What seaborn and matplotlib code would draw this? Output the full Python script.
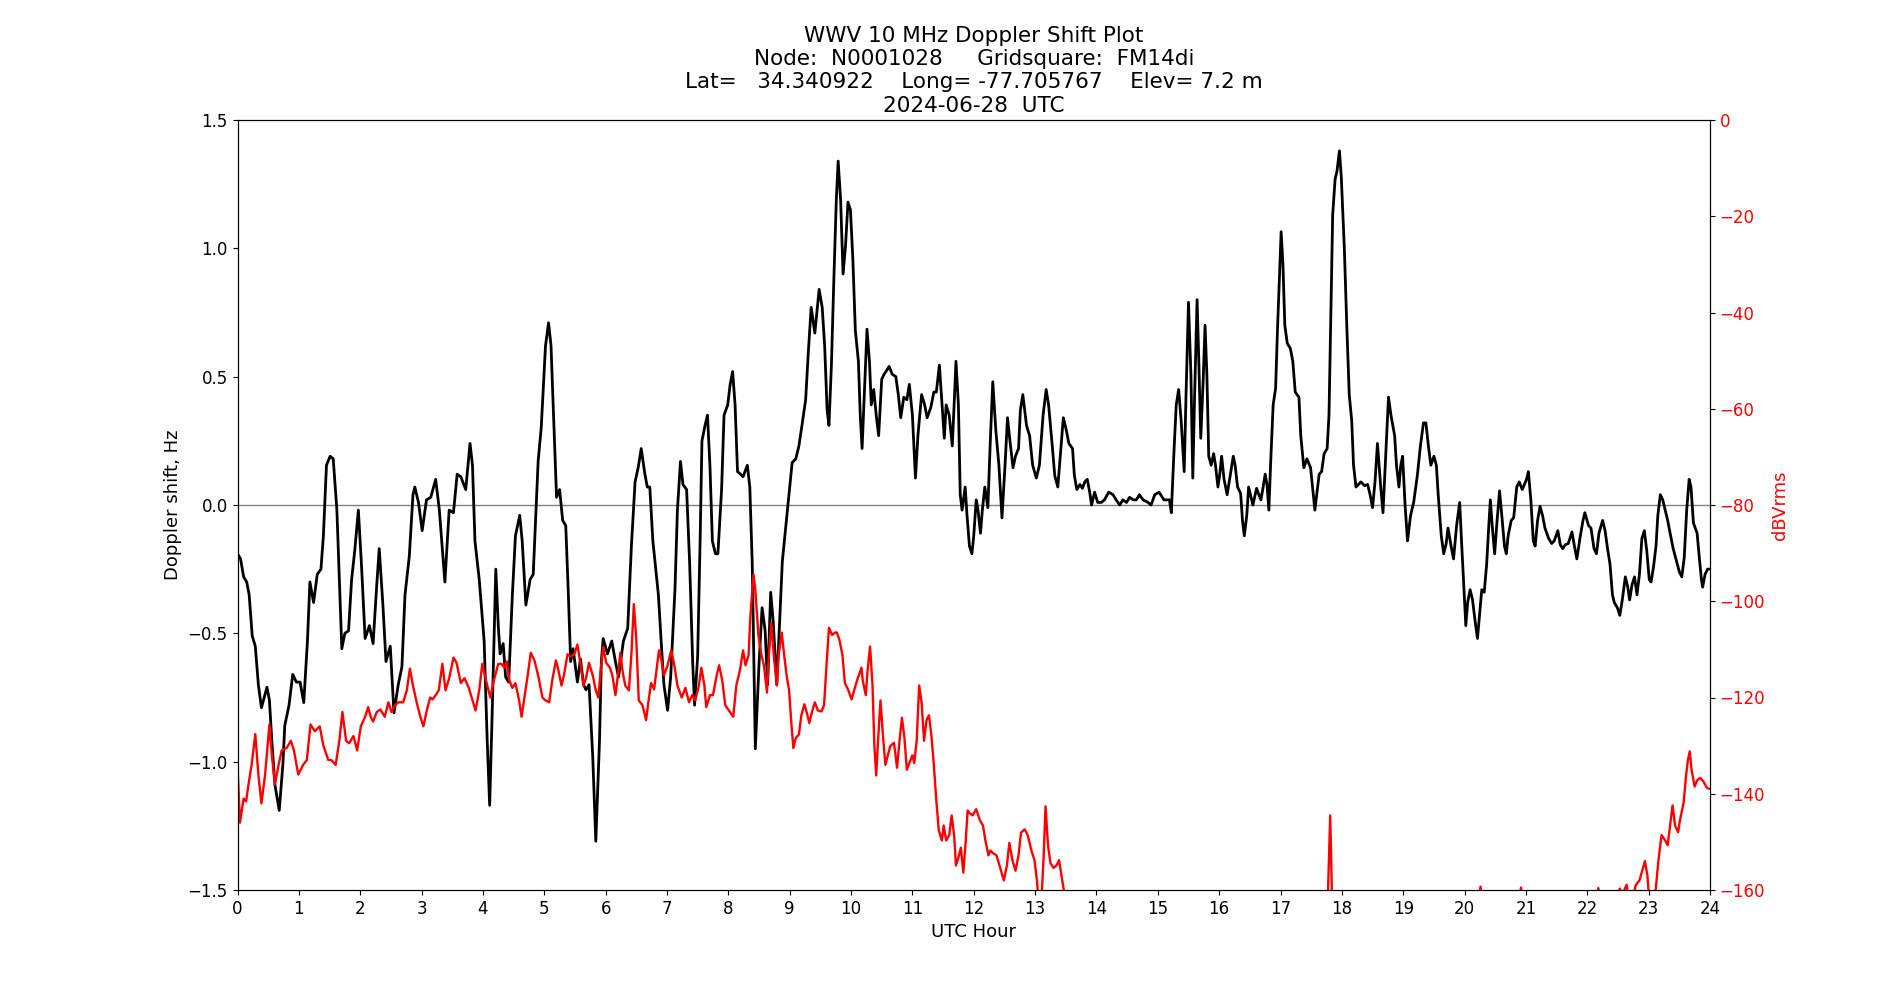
import pandas as pd
import matplotlib
matplotlib.use("Agg")
import matplotlib.pyplot as plt
import seaborn as sns

# Doppler shift (Hz) vs UTC hour
doppler_hours = [
    0.00, 0.05, 0.10, 0.15, 0.19, 0.24, 0.29, 0.34, 0.39, 0.48, 0.52, 0.56, 0.61, 0.68, 0.74, 0.77, 0.84, 0.90, 0.96,
    1.02, 1.08, 1.14, 1.18, 1.24, 1.30, 1.36, 1.40, 1.45, 1.51, 1.56, 1.62, 1.70, 1.75, 1.81, 1.86, 1.91, 1.97,
    2.02, 2.08, 2.15, 2.21, 2.27, 2.31, 2.37, 2.42, 2.49, 2.55, 2.62, 2.68, 2.73, 2.80, 2.86, 2.89, 2.95,
    3.01, 3.08, 3.15, 3.23, 3.29, 3.38, 3.45, 3.52, 3.58, 3.64, 3.72, 3.79, 3.83, 3.87, 3.94,
    4.02, 4.07, 4.11, 4.15, 4.21, 4.25, 4.28, 4.33, 4.37, 4.42, 4.48, 4.53, 4.60, 4.64, 4.70, 4.77, 4.82, 4.90, 4.95,
    5.02, 5.07, 5.11, 5.16, 5.20, 5.25, 5.30, 5.35, 5.39, 5.43, 5.47, 5.54, 5.59, 5.64, 5.68, 5.73, 5.79, 5.84, 5.90, 5.93, 5.96,
    6.03, 6.10, 6.16, 6.21, 6.29, 6.36, 6.42, 6.48, 6.53, 6.58, 6.64, 6.68, 6.72, 6.77, 6.86, 6.91, 6.95,
    7.01, 7.06, 7.13, 7.17, 7.22, 7.26, 7.32, 7.37, 7.42, 7.45, 7.50, 7.54, 7.57, 7.62, 7.66, 7.70, 7.74, 7.79, 7.83, 7.89, 7.93, 7.99,
    8.03, 8.07, 8.11, 8.15, 8.20, 8.24, 8.31, 8.35, 8.39, 8.44, 8.50, 8.55, 8.60, 8.64, 8.69, 8.73, 8.79, 8.84, 8.88, 8.93, 8.99,
    9.04, 9.10, 9.15, 9.20, 9.26, 9.30, 9.35, 9.41, 9.48, 9.53, 9.57, 9.61, 9.64, 9.68, 9.72, 9.76, 9.79, 9.83, 9.87, 9.91, 9.95, 9.99,
    10.03, 10.07, 10.12, 10.15, 10.18, 10.23, 10.26, 10.30, 10.33, 10.37, 10.41, 10.45, 10.50, 10.54, 10.57, 10.62, 10.67, 10.73,
    10.77, 10.81, 10.86, 10.91, 10.95,
    11.00, 11.05, 11.09, 11.15, 11.20, 11.24, 11.30, 11.35, 11.39, 11.44, 11.49, 11.52, 11.55, 11.60, 11.65, 11.68, 11.71, 11.75,
    11.78, 11.81, 11.86, 11.89, 11.93, 11.97,
    12.00, 12.04, 12.07, 12.11, 12.14, 12.18, 12.23, 12.27, 12.31, 12.36, 12.41, 12.46, 12.51, 12.55, 12.59, 12.64, 12.68, 12.73,
    12.76, 12.80, 12.86, 12.91, 12.96,
    13.02, 13.07, 13.13, 13.18, 13.22, 13.28, 13.32, 13.37, 13.41, 13.46, 13.51, 13.55, 13.61, 13.64, 13.68, 13.73, 13.77, 13.81,
    13.85, 13.89, 13.92, 13.97,
    14.02, 14.08, 14.13, 14.20, 14.27, 14.32, 14.38, 14.43, 14.49, 14.54, 14.60, 14.65, 14.70, 14.76, 14.84, 14.89, 14.95,
    15.02, 15.10, 15.15, 15.19, 15.22, 15.26, 15.30, 15.34, 15.38, 15.43, 15.46, 15.50, 15.54, 15.57, 15.60, 15.64, 15.67, 15.70,
    15.74, 15.77, 15.80, 15.83, 15.87, 15.91, 15.94, 15.98,
    16.01, 16.04, 16.08, 16.13, 16.17, 16.23, 16.26, 16.30, 16.35, 16.38, 16.41, 16.45, 16.48, 16.52, 16.55, 16.61, 16.64, 16.68,
    16.71, 16.75, 16.78, 16.81, 16.84, 16.88, 16.92, 16.95, 16.99,
    17.01, 17.04, 17.07, 17.11, 17.16, 17.20, 17.24, 17.30, 17.33, 17.38, 17.43, 17.49, 17.53, 17.56, 17.60, 17.63, 17.67, 17.71,
    17.76, 17.79, 17.82, 17.85, 17.89, 17.92, 17.96, 17.99,
    18.04, 18.08, 18.12, 18.16, 18.19, 18.23, 18.27, 18.31, 18.37, 18.42, 18.46, 18.50, 18.54, 18.58, 18.63, 18.67, 18.71, 18.76,
    18.80, 18.86, 18.89, 18.93, 18.96, 18.99,
    19.03, 19.07, 19.12, 19.17, 19.23, 19.28, 19.33, 19.37, 19.41, 19.45, 19.50, 19.54, 19.57, 19.62, 19.66, 19.70, 19.73, 19.78,
    19.82, 19.87, 19.92, 19.95, 19.99,
    20.02, 20.05, 20.09, 20.13, 20.17, 20.21, 20.25, 20.28, 20.32, 20.36, 20.39, 20.42, 20.45, 20.49, 20.53, 20.57, 20.61, 20.65,
    20.68, 20.71, 20.76, 20.80, 20.85, 20.89, 20.94,
    21.01, 21.04, 21.08, 21.12, 21.15, 21.19, 21.23, 21.27, 21.31, 21.37, 21.42, 21.46, 21.52, 21.56, 21.60, 21.64, 21.69, 21.75,
    21.79, 21.83, 21.88, 21.93, 21.96,
    22.02, 22.06, 22.11, 22.15, 22.19, 22.25, 22.29, 22.33, 22.37, 22.41, 22.44, 22.49, 22.53, 22.57, 22.62, 22.66, 22.69, 22.73,
    22.77, 22.81, 22.85, 22.89, 22.93, 22.97,
    23.01, 23.04, 23.08, 23.12, 23.15, 23.19, 23.23, 23.27, 23.31, 23.35, 23.40, 23.46, 23.50, 23.54, 23.58, 23.62, 23.66, 23.69,
    23.73, 23.79, 23.82, 23.86, 23.88, 23.92, 23.96, 24.00,
]
doppler_hz = [
    -0.19, -0.21, -0.28, -0.30, -0.35, -0.51, -0.55, -0.70, -0.79, -0.71, -0.76, -0.92, -1.09, -1.19, -1.01, -0.86, -0.78, -0.66, -0.69,
    -0.69, -0.77, -0.53, -0.30, -0.38, -0.27, -0.25, -0.12, 0.155, 0.19, 0.18, -0.02, -0.56, -0.50, -0.49, -0.29, -0.18, -0.02,
    -0.23, -0.52, -0.47, -0.54, -0.31, -0.17, -0.39, -0.61, -0.55, -0.81, -0.70, -0.63, -0.35, -0.20, 0.04, 0.07, 0.01,
    -0.10, 0.02, 0.03, 0.10, -0.02, -0.30, -0.02, -0.03, 0.12, 0.11, 0.06, 0.24, 0.155, -0.14, -0.29,
    -0.53, -0.92, -1.17, -0.82, -0.25, -0.47, -0.58, -0.54, -0.67, -0.69, -0.35, -0.12, -0.04, -0.14, -0.39, -0.29, -0.27, 0.17, 0.30,
    0.62, 0.71, 0.62, 0.29, 0.03, 0.06, -0.06, -0.08, -0.33, -0.61, -0.56, -0.69, -0.60, -0.70, -0.72, -0.70, -0.98, -1.31, -0.92, -0.61, -0.52,
    -0.58, -0.53, -0.61, -0.67, -0.53, -0.48, -0.16, 0.09, 0.145, 0.22, 0.12, 0.07, 0.07, -0.14, -0.35, -0.55, -0.70,
    -0.80, -0.67, -0.33, -0.02, 0.17, 0.08, 0.06, -0.23, -0.62, -0.78, -0.59, -0.14, 0.25, 0.31, 0.35, 0.155, -0.14, -0.19, -0.19, 0.06, 0.35, 0.39,
    0.47, 0.52, 0.39, 0.13, 0.12, 0.11, 0.155, 0.07, -0.23, -0.95, -0.62, -0.40, -0.49, -0.70, -0.34, -0.45, -0.70, -0.43, -0.22, -0.10, 0.04,
    0.165, 0.18, 0.23, 0.31, 0.41, 0.58, 0.77, 0.67, 0.84, 0.77, 0.62, 0.37, 0.31, 0.545, 0.88, 1.19, 1.34, 1.19, 0.90, 1.01, 1.18, 1.15,
    0.955, 0.68, 0.56, 0.35, 0.22, 0.505, 0.685, 0.56, 0.39, 0.45, 0.35, 0.27, 0.49, 0.51, 0.52, 0.54, 0.51, 0.50,
    0.43, 0.34, 0.42, 0.41, 0.47,
    0.35, 0.105, 0.27, 0.43, 0.39, 0.34, 0.38, 0.44, 0.44, 0.545, 0.37, 0.26, 0.39, 0.35, 0.23, 0.39, 0.56, 0.39,
    0.04, -0.02, 0.07, -0.04, -0.16, -0.19,
    -0.12, 0.02, -0.02, -0.11, -0.02, 0.07, -0.01, 0.25, 0.48, 0.29, 0.155, -0.05, 0.155, 0.34, 0.25, 0.145, 0.19, 0.22,
    0.37, 0.43, 0.31, 0.27, 0.155,
    0.105, 0.155, 0.35, 0.45, 0.39, 0.23, 0.115, 0.07, 0.19, 0.34, 0.29, 0.24, 0.22, 0.115, 0.06, 0.08, 0.065, 0.09,
    0.10, 0.05, 0.00, 0.05,
    0.01, 0.01, 0.02, 0.05, 0.04, 0.02, 0.00, 0.02, 0.01, 0.03, 0.02, 0.02, 0.04, 0.02, 0.01, 0.00, 0.04,
    0.05, 0.02, 0.02, 0.02, -0.03, 0.19, 0.39, 0.45, 0.33, 0.13, 0.43, 0.79, 0.505, 0.105, 0.43, 0.80, 0.545, 0.26,
    0.49, 0.70, 0.505, 0.19, 0.155, 0.20, 0.155, 0.07,
    0.12, 0.19, 0.10, 0.04, 0.10, 0.19, 0.155, 0.07, 0.045, -0.06, -0.12, -0.04, 0.07, 0.03, 0.00, 0.065, 0.045, 0.02,
    0.06, 0.12, 0.08, -0.02, 0.17, 0.39, 0.455, 0.68, 0.935,
    1.065, 0.935, 0.70, 0.63, 0.61, 0.56, 0.44, 0.42, 0.27, 0.145, 0.18, 0.145, 0.05, -0.02, 0.06, 0.12, 0.13, 0.20,
    0.22, 0.35, 0.74, 1.13, 1.27, 1.30, 1.38, 1.28,
    1.00, 0.70, 0.43, 0.33, 0.155, 0.07, 0.08, 0.09, 0.075, 0.08, 0.04, -0.01, 0.09, 0.24, 0.08, -0.03, 0.17, 0.42,
    0.35, 0.27, 0.155, 0.07, 0.155, 0.19,
    0.00, -0.14, -0.04, 0.01, 0.115, 0.23, 0.32, 0.32, 0.23, 0.155, 0.19, 0.155, 0.04, -0.12, -0.19, -0.15, -0.09, -0.16,
    -0.21, -0.08, 0.01, -0.14, -0.33,
    -0.47, -0.38, -0.33, -0.37, -0.45, -0.52, -0.41, -0.33, -0.34, -0.23, -0.10, 0.02, -0.08, -0.19, -0.06, 0.055, -0.05, -0.16,
    -0.19, -0.12, -0.06, -0.05, 0.07, 0.09, 0.06,
    0.10, 0.13, 0.02, -0.14, -0.16, -0.06, -0.005, -0.04, -0.09, -0.13, -0.15, -0.14, -0.10, -0.155, -0.17, -0.155, -0.15, -0.105,
    -0.16, -0.21, -0.13, -0.06, -0.03,
    -0.08, -0.09, -0.17, -0.19, -0.11, -0.06, -0.10, -0.17, -0.23, -0.35, -0.38, -0.40, -0.43, -0.37, -0.28, -0.32, -0.37, -0.31,
    -0.28, -0.35, -0.27, -0.13, -0.10, -0.18,
    -0.29, -0.30, -0.24, -0.16, -0.04, 0.04, 0.02, -0.02, -0.06, -0.11, -0.17, -0.225, -0.26, -0.28, -0.205, -0.02, 0.10, 0.07,
    -0.07, -0.11, -0.19, -0.29, -0.32, -0.27, -0.25, -0.25,
]

# Received signal level (dBVrms) vs UTC hour; values under -160 fall off the axis
power_hours = [
    0.00, 0.04, 0.10, 0.14, 0.18, 0.23, 0.29, 0.34, 0.39, 0.45, 0.52, 0.56, 0.61, 0.67, 0.72, 0.80, 0.87, 0.92, 0.99,
    1.07, 1.13, 1.19, 1.26, 1.34, 1.40, 1.48, 1.53, 1.60, 1.66, 1.71, 1.77, 1.82, 1.89, 1.95,
    2.01, 2.08, 2.13, 2.17, 2.21, 2.27, 2.33, 2.40, 2.46, 2.51, 2.57, 2.62, 2.70, 2.76, 2.81, 2.86, 2.92, 2.98,
    3.03, 3.08, 3.14, 3.18, 3.23, 3.28, 3.34, 3.39, 3.45, 3.52, 3.57, 3.64, 3.70, 3.77, 3.83, 3.88, 3.94, 3.99,
    4.05, 4.12, 4.18, 4.25, 4.30, 4.35, 4.39, 4.43, 4.48, 4.53, 4.59, 4.63, 4.67, 4.73, 4.78, 4.84, 4.90, 4.97,
    5.02, 5.08, 5.13, 5.19, 5.23, 5.28, 5.32, 5.38, 5.43, 5.49, 5.54, 5.59, 5.64, 5.68, 5.73, 5.79, 5.84, 5.88, 5.92, 5.96,
    6.01, 6.07, 6.11, 6.16, 6.20, 6.24, 6.28, 6.32, 6.38, 6.42, 6.46, 6.50, 6.54, 6.60, 6.66, 6.69, 6.74, 6.79, 6.83, 6.87, 6.91, 6.95,
    7.01, 7.07, 7.12, 7.17, 7.24, 7.30, 7.36, 7.41, 7.46, 7.52, 7.56, 7.61, 7.64, 7.70, 7.75, 7.81, 7.85, 7.90, 7.95,
    8.02, 8.08, 8.13, 8.19, 8.24, 8.28, 8.33, 8.36, 8.41, 8.44, 8.49, 8.54, 8.58, 8.63, 8.66, 8.70, 8.74, 8.79, 8.82, 8.87, 8.91, 8.95, 8.99,
    9.03, 9.06, 9.10, 9.15, 9.19, 9.24, 9.28, 9.32, 9.37, 9.41, 9.46, 9.52, 9.56, 9.60, 9.64, 9.69, 9.74, 9.77, 9.81, 9.86, 9.90, 9.95,
    10.01, 10.05, 10.10, 10.14, 10.17, 10.19, 10.24, 10.27, 10.31, 10.35, 10.38, 10.41, 10.44, 10.48, 10.52, 10.56, 10.61, 10.64,
    10.70, 10.75, 10.79, 10.83, 10.87, 10.91, 10.95,
    11.00, 11.03, 11.07, 11.11, 11.15, 11.19, 11.23, 11.27, 11.31, 11.35, 11.39, 11.43, 11.48, 11.51, 11.55, 11.60, 11.64, 11.68,
    11.71, 11.76, 11.79, 11.83, 11.87, 11.90, 11.93, 11.98,
    12.04, 12.10, 12.15, 12.19, 12.24, 12.27, 12.31, 12.37, 12.42, 12.49, 12.54, 12.58, 12.63, 12.68, 12.73, 12.77, 12.83, 12.88, 12.94, 12.99,
    13.03, 13.06, 13.10, 13.14, 13.17, 13.21, 13.25, 13.30, 13.35, 13.39, 13.43, 13.48, 13.55,
    14.00, 15.00, 16.00, 17.00, 17.70, 17.77, 17.81, 17.84, 17.90, 19.00,
    20.00, 20.22, 20.26, 20.30, 20.40, 20.80, 20.89, 20.92, 20.95,
    21.10, 22.00, 22.14, 22.18, 22.22, 22.40, 22.50, 22.53, 22.57, 22.64, 22.68, 22.72, 22.79, 22.85, 22.94, 22.98,
    23.02, 23.08, 23.11, 23.16, 23.21, 23.27, 23.31, 23.35, 23.39, 23.43, 23.48, 23.51, 23.57, 23.61, 23.64, 23.67, 23.70,
    23.75, 23.79, 23.84, 23.89, 23.95, 24.00,
]
power_dbv = [
    -134, -146, -141, -141.6, -138, -134, -127.6, -136, -142, -136, -125.6, -132, -138, -134, -131, -130.5, -129, -131, -136,
    -134, -133, -125.6, -127, -126, -130, -133, -133, -134, -129, -123, -129, -129.5, -128, -131,
    -126, -124, -122, -124, -125, -123, -122.5, -124, -121, -123, -121.6, -121, -121, -118.5, -114, -117.5, -121, -124,
    -126, -123, -120, -120.4, -119.5, -118.5, -113, -118.5, -116, -111.7, -112.8, -117, -116, -118, -120.6, -122.7, -118.5, -113,
    -116.4, -120, -116.4, -113, -113, -113.8, -112.5, -116.4, -118, -117, -120.6, -124, -120.6, -115.4, -110.7, -112.3, -115.4, -120,
    -120.6, -121, -116.4, -112.3, -114.3, -117.5, -115.4, -111, -111.5, -111, -109, -113, -117.5, -116, -112.8, -115.4, -118.5, -120, -114.3, -109.5,
    -112.8, -113.8, -115.4, -119.5, -115.4, -110.7, -114.9, -117.5, -118.5, -111, -100.6, -108, -120.6, -121.6, -124.7, -121.6, -117, -118.3, -114.3, -110.2, -112.3, -115.4,
    -113.3, -110.2, -113.3, -117.5, -120, -118, -121, -119.5, -120.6, -117.5, -113.8, -117.5, -122, -119.5, -119.5, -115.4, -113.3, -116.4, -121.6,
    -122.9, -124, -117.5, -114.3, -110.2, -113.3, -111.2, -103, -94.4, -97.7, -107, -111.2, -113.3, -119, -111.2, -104.5, -111.2, -117.5, -111.2, -106.5, -111.2, -115.4, -118.5,
    -125.8, -130.5, -128.4, -127.7, -123.7, -121.4, -123.2, -125.3, -122.7, -121, -122.7, -122.9, -121.6, -113.3, -105.5, -107, -106.5, -106.5, -108, -111.2, -117, -118.3,
    -120.4, -118.5, -116.4, -114.9, -113.8, -116.4, -119.5, -114.3, -109.4, -117.5, -130, -136.2, -129, -120.6, -127.9, -134, -131.5, -130.1,
    -129.4, -134.6, -129, -124.2, -128.4, -135, -133.6,
    -132, -133.6, -129, -117.5, -121, -129, -124.7, -123.7, -127.9, -134.1, -141.4, -147.6, -149.7, -146.6, -149.7, -148.6, -144.5, -148.6,
    -154.9, -152.8, -151.2, -156.4, -149.7, -143.5, -144, -144.5,
    -143.2, -145.5, -146.6, -149.7, -152.8, -151.8, -152.3, -152.8, -154.9, -158, -154.9, -150.2, -153.8, -156, -152.8, -148.1, -147.4, -148.6, -151.8, -153.8,
    -158, -163, -163, -152.8, -142.6, -150.7, -154.4, -155.4, -154.9, -153.8, -157, -161, -170,
    -175, -175, -175, -175, -172, -162, -144.5, -162, -172, -175,
    -172, -163, -159.3, -163, -170, -168, -162, -159.5, -162,
    -170, -172, -163, -159.6, -163, -166, -161, -159.7, -161, -158.9, -162, -163, -159, -158, -154, -157,
    -164, -163, -160.6, -153.8, -148.6, -149.7, -150.7, -146.6, -142.4, -146.6, -148, -145.5, -141.9, -136.2, -133, -131.2, -135.1,
    -138.5, -137.2, -136.7, -137.4, -138.8, -139,
]

doppler = pd.DataFrame({'hour': doppler_hours, 'shift': doppler_hz})
power = pd.DataFrame({'hour': power_hours, 'dbv': power_dbv})

fig, ax = plt.subplots(figsize=(19, 10), dpi=100)

ax.axhline(0, color='gray', linewidth=1)
sns.lineplot(data=doppler, x='hour', y='shift', ax=ax, color='black', linewidth=2,
             estimator=None, legend=False, solid_joinstyle='round')
ax.set_xlim(0, 24)
ax.set_ylim(-1.5, 1.5)
ax.set_xticks(range(0, 25))
ax.set_yticks([-1.5, -1.0, -0.5, 0.0, 0.5, 1.0, 1.5])
ax.set_xlabel('UTC Hour', fontsize=13)
ax.set_ylabel('Doppler shift, Hz', fontsize=13)
ax.tick_params(labelsize=12)

ax2 = ax.twinx()
sns.lineplot(data=power, x='hour', y='dbv', ax=ax2, color='red', linewidth=1.7,
             estimator=None, legend=False, solid_joinstyle='round')
ax2.set_ylim(-160, 0)
ax2.set_yticks(range(-160, 1, 20))
ax2.set_ylabel('dBVrms', color='red', fontsize=13)
ax2.tick_params(axis='y', labelcolor='red', labelsize=12)
ax2.set_xlim(0, 24)

ax.set_title('WWV 10 MHz Doppler Shift Plot\n'
             'Node:  N0001028     Gridsquare:  FM14di\n'
             'Lat=   34.340922    Long= -77.705767    Elev= 7.2 m\n'
             '2024-06-28  UTC', fontsize=15.5)

plt.savefig('out.png', dpi=100)
